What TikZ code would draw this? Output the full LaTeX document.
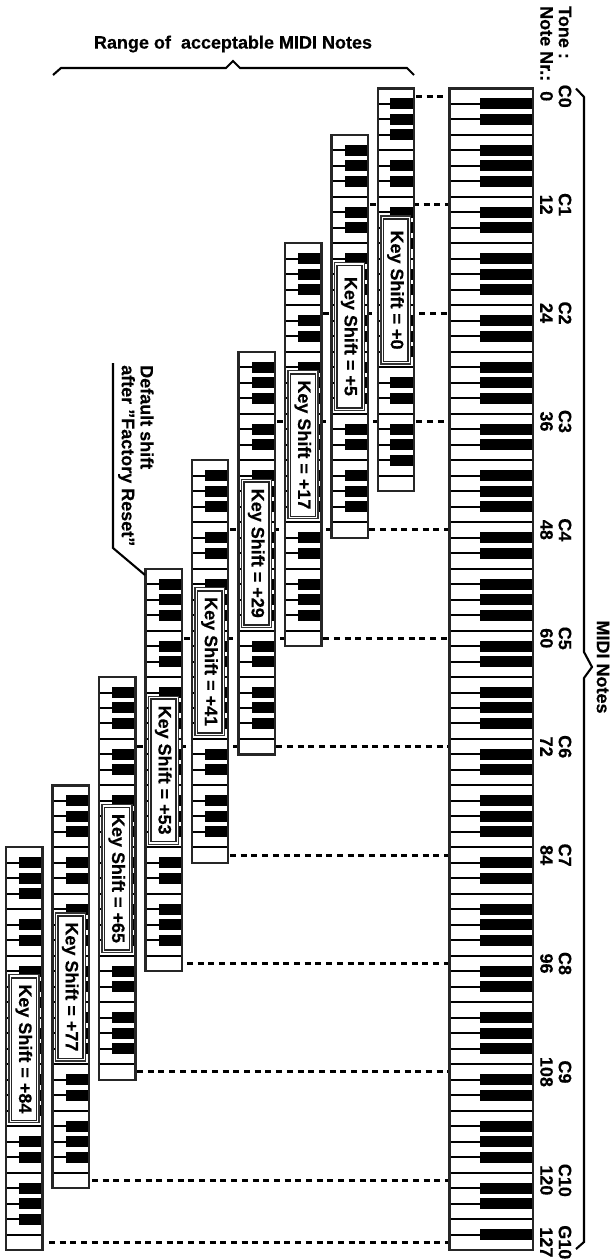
\documentclass[tikz,border=0pt]{standalone}
\usepackage{fontspec}
\setmainfont{Liberation Sans}[BoldFont={Liberation Sans Bold},BoldFeatures={FakeBold=0.35}]
\newcommand{\wkey}{15.487}
\newcommand{\ytop}{88.5}
\tikzset{
  x=1pt,y=-1pt,
  keyframe/.style={draw=black!85,line width=2.2pt,fill=white},
  keyline/.style={draw=black,line width=2pt},
  blackkey/.style={fill=black,draw=none},
  dashlink/.style={draw=black,line width=3pt,dash pattern=on 6pt off 4.7pt},
  bracket/.style={draw=black,line width=2.1pt,line join=miter},
  labelouter/.style={draw=black!80,line width=1.2pt,fill=white},
  labelinner/.style={draw=black!85,line width=1.7pt,fill=white},
  txt/.style={font=\fontsize{18}{19}\selectfont\bfseries,text=black,inner sep=0pt},
  rtxt/.style={txt,rotate=-90},
}
% #1 left x, #2 right x, #3 first white index, #4 number of whites, #5 black key left x, #6 pattern offset
\newcommand{\keyboard}[6]{%
  \pgfmathsetmacro{\kt}{\ytop+#3*\wkey}
  \pgfmathsetmacro{\kb}{\ytop+(#3+#4)*\wkey}
  \path[keyframe] (#1,\kt) rectangle (#2,\kb);
  \pgfmathtruncatemacro{\klast}{#4-1}
  \foreach \i in {1,...,\klast}{
    \pgfmathsetmacro{\ly}{\ytop+(#3+\i)*\wkey}
    \path[keyline] (#1,\ly) -- (#2,\ly);
    \pgfmathtruncatemacro{\pos}{mod(#6+\i-1,7)}
    \ifnum\pos=2\relax\else\ifnum\pos=6\relax\else
      \path[blackkey] (#5,\ly-5.5) rectangle (#2,\ly+5.5);
    \fi\fi
  }
  \path[keyframe,fill=none] (#1,\kt) rectangle (#2,\kb);
}
% #1 left, #2 right, #3 first white index, #4 name, #5 text
\newcommand{\keylabel}[5]{%
  \pgfmathsetmacro{\lt}{\ytop+#3*\wkey+127.5}
  \path[labelouter] (#1+3,\lt) rectangle (#2-3.5,\lt+148);
  \path[labelinner] (#1+5.5,\lt+3) rectangle (#2-6,\lt+145.5);
  \node[rtxt] (#4) at ({(#1+#2)/2-0.5},\lt+74) {#5};
}
\begin{document}
\begin{tikzpicture}
\useasboundingbox (0,0) rectangle (613,1259);
\fill[white] (0,0) rectangle (613,1259);
% connector ends
\foreach \n/\x/\idx in {a/416/0,b/370/7,c/323/14,d/277/21,e/230/28,f/184/35,g/137/42,h/230/49,i/187/56,j/137/63,k/92/70,l/49/74}{
  \coordinate (from\n) at (\x,{\ytop+(\idx+0.5)*\wkey});
  \coordinate (to\n) at (450,{\ytop+(\idx+0.5)*\wkey});
}
\foreach \n in {a,b,c,d,e,f,g,h,i,j,k,l}{
  \path[dashlink] (from\n) -- (to\n);
}
% main keyboard and the small ones
\keyboard{449.5}{533}{0}{75}{480}{0}
\keyboard{6}{42.5}{49}{26}{19}{3}
\keyboard{52.5}{89}{45}{26}{65.5}{3}
\keyboard{99}{135.5}{38}{26}{112}{3}
\keyboard{145.5}{182}{31}{26}{158.5}{3}
\keyboard{192}{228}{24}{26}{205}{3}
\keyboard{238.5}{275}{17}{26}{251.5}{3}
\keyboard{285}{321.5}{10}{26}{298}{3}
\keyboard{331.5}{368}{3}{26}{344.5}{3}
\keyboard{378}{414}{0}{26}{390}{3}
% labels
\keylabel{6}{42.5}{49}{ls84}{Key Shift = +84}
\keylabel{52.5}{89}{45}{ls77}{Key Shift = +77}
\keylabel{99}{135.5}{38}{ls65}{Key Shift = +65}
\keylabel{145.5}{182}{31}{ls53}{Key Shift = +53}
\keylabel{192}{228}{24}{ls41}{Key Shift = +41}
\keylabel{238.5}{275}{17}{ls29}{Key Shift = +29}
\keylabel{285}{321.5}{10}{ls17}{Key Shift = +17}
\keylabel{331.5}{368}{3}{ls5}{Key Shift = +5}
\keylabel{378}{414}{0}{ls0}{Key Shift = +0}
% top bracket
\node[txt] (range) at (233,44) {Range of\ \ acceptable MIDI Notes};
\path[bracket] (53,75) -- (61,68) -- (226,68) -- (233,61) -- (240,68) -- (407,68) -- (414,75);
% right bracket
\path[bracket] (576,88.5) -- (584,97) -- (584,652) -- (592,667) -- (584,678) -- (584,1242) -- (576,1249);
\node[rtxt] (midinotes) at (603,667) {MIDI Notes};
% header
\node[rtxt,anchor=west] (tone) at (565,6) {Tone :};
\node[rtxt,anchor=west] (notenr) at (546.5,6) {Note Nr.:};
% note labels
\foreach \n/\t/\m/\idx in {0/C0/0/0,1/C1/12/7,2/C2/24/14,3/C3/36/21,4/C4/48/28,5/C5/60/35,6/C6/72/42,7/C7/84/49,8/C8/96/56,9/C9/108/63,10/C10/120/70,11/G10/127/74}{
  \node[rtxt] (tone\n) at (565,{\ytop+(\idx+0.5)*\wkey}) {\t};
  \node[rtxt] (num\n) at (546.5,{\ytop+(\idx+0.5)*\wkey}) {\m};
}
% default shift note
\node[rtxt,anchor=west] (def1) at (147,365) {Default shift};
\node[rtxt,anchor=west] (def2) at (126.5,365) {after "Factory Reset"};
\coordinate (calloutend) at (145,575);
\path[bracket] (113,363) -- (113,548) -- (calloutend);
\end{tikzpicture}
\end{document}
